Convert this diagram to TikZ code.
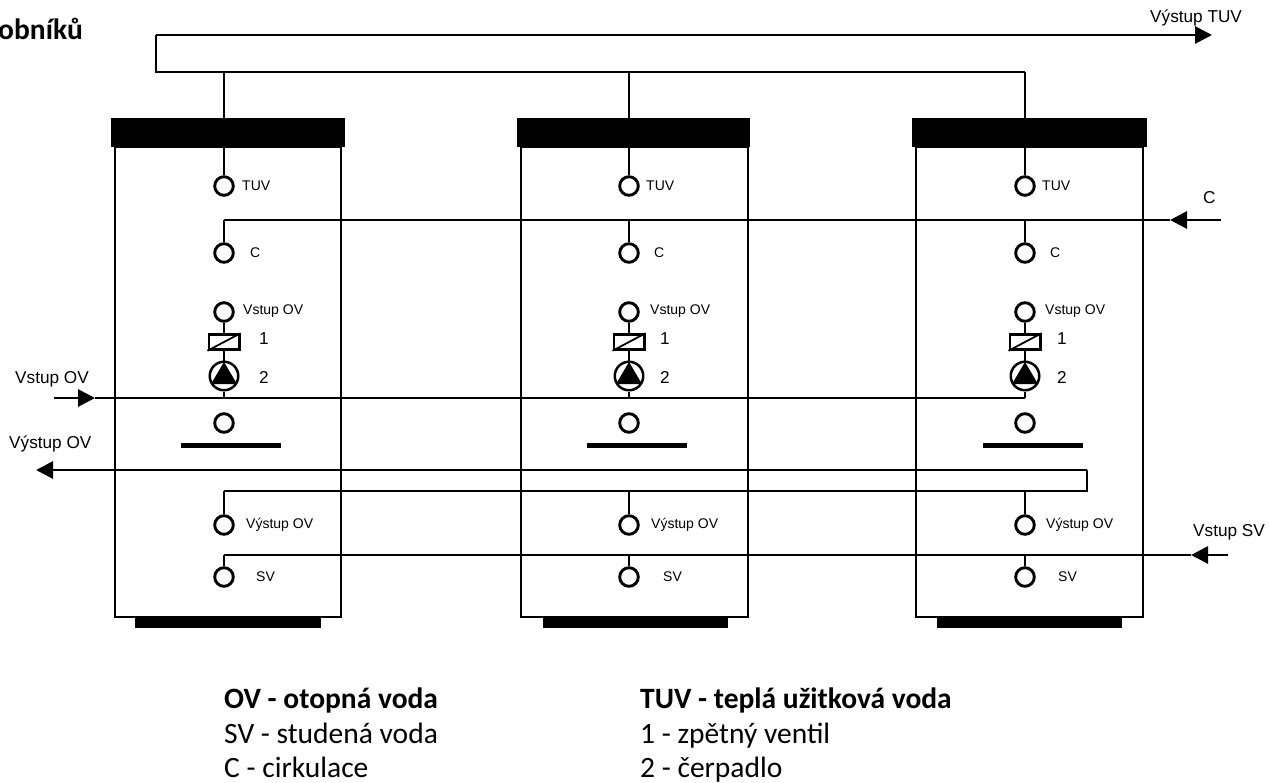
\documentclass[tikz,border=0pt]{standalone}
\usepackage{fontspec}
\setmainfont{Liberation Sans}
\newfontfamily\legendfont{Carlito}
\usetikzlibrary{arrows.meta}
\tikzset{
  pipe/.style={line width=2.9pt,line join=miter},
  flow/.style={pipe,-{Triangle[length=17pt,width=17pt]}},
  port/.style={circle,draw,line width=2.9pt,fill=white,minimum size=18.6pt,inner sep=0pt},
  valve/.style={rectangle,draw,line width=2.5pt,fill=white,minimum width=30.5pt,minimum height=15pt,inner sep=0pt},
  pump/.style={circle,draw,line width=2.5pt,fill=white,minimum size=28.5pt,inner sep=0pt},
  tankbody/.style={rectangle,draw,line width=2.9pt,inner sep=0pt},
  solidbar/.style={rectangle,fill=black,inner sep=0pt},
  small/.style={font=\fontsize{14}{16}\selectfont,inner sep=0pt,anchor=west},
  large/.style={font=\fontsize{17.2}{20}\selectfont,inner sep=0pt,anchor=west},
  legendhead/.style={font=\legendfont\bfseries\fontsize{29.5}{32}\selectfont,inner sep=0pt,anchor=base west},
  legendrow/.style={font=\legendfont\fontsize{29.5}{32}\selectfont,inner sep=0pt,anchor=base west},
}
\begin{document}
\begin{tikzpicture}[x=1pt,y=-1pt]
\useasboundingbox (0,0) rectangle (1269,782);
\fill[white] (0,0) rectangle (1269,782);

% tanks: name / port axis / body centre, width / cap centre, width / foot centre, width / bar left, right / label x offsets
\foreach \n/\c/\bc/\bw/\kc/\kw/\fc/\fw/\ba/\bb/\tx/\cx/\vx/\ox/\sx/\ex in {
  a/224/228/226/228/234/228/186/181/281/242/250/243/246/256/259,
  b/629/634.5/227/633.5/233/635/185/587/687/646/654/650/651/663/660,
  c/1025/1029.5/227/1029.5/235/1029.5/185/983/1083/1042/1050/1045/1046/1058/1057}{
  \node[tankbody,minimum width=\bw pt,minimum height=470pt] (\n body) at (\bc,382) {};
  \node[solidbar,minimum width=\kw pt,minimum height=29pt] (\n cap) at (\kc,132.5) {};
  \node[solidbar,minimum width=\fw pt,minimum height=11pt] (\n foot) at (\fc,622.5) {};
  \node[solidbar,minimum width=\bb pt-\ba pt,minimum height=5pt] (\n bar) at ({(\ba+\bb)/2},445) {};
  \node[port] (\n tuv) at (\c,186) {};
  \node[port] (\n cir) at (\c,253) {};
  \node[port] (\n in) at (\c,312) {};
  \node[valve] (\n valve) at (\c,342) {};
  \node[pump] (\n pump) at (\c,376) {};
  \node[port] (\n low) at (\c,423) {};
  \node[port] (\n out) at (\c,525) {};
  \node[port] (\n sv) at (\c,577) {};
  \draw[line width=1.8pt] (\n valve.south west) -- (\n valve.north east);
  \fill (\c,362) -- (\c-13,384) -- (\c+13,384) -- cycle;
  \coordinate (\n top) at (\c,72);
  \coordinate (\n cj) at (\c,220);
  \coordinate (\n ij) at (\c,398);
  \coordinate (\n oj) at (\c,491);
  \coordinate (\n sj) at (\c,555);
  \draw[pipe] (\n top) -- (\n cap.north -| \n top);
  \draw[pipe] (\n cap.south -| \n top) -- (\n tuv);
  \draw[pipe] (\n cj) -- (\n cir);
  \draw[pipe] (\n in) -- (\n valve);
  \draw[pipe] (\n valve) -- (\n pump);
  \draw[pipe] (\n pump) -- (\n ij);
  \draw[pipe] (\n oj) -- (\n out);
  \draw[pipe] (\n sj) -- (\n sv);
  \node[small] (\n tuvl) at (\tx,186) {TUV};
  \node[small] (\n cirl) at (\cx,253) {C};
  \node[small] (\n inl) at (\vx,311) {Vstup OV};
  \node[large] (\n onel) at (\ex,339) {1};
  \node[large] (\n twol) at (\ex,377) {2};
  \node[small] (\n outl) at (\ox,525) {Výstup OV};
  \node[small] (\n svl) at (\sx,577) {SV};
}

% hot water collector
\coordinate (hotstart) at (156,35);
\coordinate (hotend) at (1212,35);
\draw[pipe] (ctop) -- (156,72) -- (hotstart);
\draw[flow] (hotstart) -- (hotend);

% circulation
\coordinate (cstart) at (1221,220);
\coordinate (ctip) at (1170,220);
\draw[flow] (cstart) -- (ctip);
\draw[pipe] (ctip) -- (acj);

% heating water in
\coordinate (instart) at (54,398);
\coordinate (intip) at (95,398);
\draw[flow] (instart) -- (intip);
\draw[pipe] (intip) -- (cij);

% heating water out
\coordinate (outtip) at (36,470);
\coordinate (outcorner) at (1087,470);
\draw[pipe] (aoj) -- (1087,491) -- (outcorner);
\draw[flow] (outcorner) -- (outtip);

% cold water
\coordinate (svstart) at (1228,555);
\coordinate (svtip) at (1191,555);
\draw[flow] (svstart) -- (svtip);
\draw[pipe] (svtip) -- (asj);

% outer labels
\node[large] (linl) at (15,379) {Vstup OV};
\node[large] (loutl) at (9,444) {Výstup OV};
\node[large] (lhot) at (1150,18) {Výstup TUV};
\node[large] (lc) at (1203,198) {C};
\node[large] (lsv) at (1193,532) {Vstup SV};

% heading fragment
\node[legendhead] (frag) at (-2,39) {obníků};

% legend
\node[legendhead] (l1) at (224,708) {OV - otopná voda};
\node[legendrow] (l2) at (224,743) {SV - studená voda};
\node[legendrow] (l3) at (224,777) {C - cirkulace};
\node[legendhead] (r1) at (640,708) {TUV - teplá užitková voda};
\node[legendrow] (r2) at (640,743) {1 - zpětný ventil};
\node[legendrow] (r3) at (640,777) {2 - čerpadlo};
\end{tikzpicture}
\end{document}
